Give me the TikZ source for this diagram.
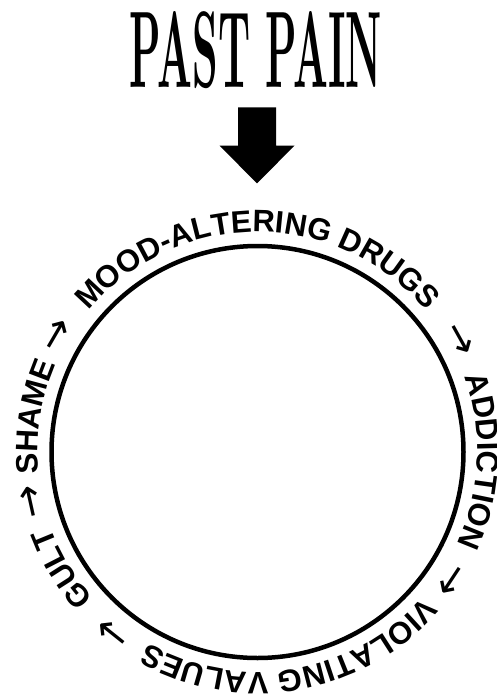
\documentclass[tikz,border=0pt]{standalone}
\usepackage{fontspec}
\usetikzlibrary{decorations.text,calc}
\newfontfamily\ringfont{Liberation Sans}
\newfontfamily\arrowfont{DejaVu Sans}
\tikzset{
  ringword/.style={decorate, decoration={text along path, text align=center,
    text={|\ringfont\bfseries\fontsize{31}{31}\selectfont|#1}}},
  ringarrow/.style={decorate, decoration={text along path, text align=center,
    text={|\arrowfont\fontsize{40}{40}\selectfont|#1}}},
  ringline/.style={circle, draw, line width=4.5pt, minimum size=412pt, inner sep=0pt},
  blockarrow/.style={fill=black}
}
\begin{document}
\begin{tikzpicture}[x=1pt,y=1pt]
\fill[white] (0,0) rectangle (496,-696);
\useasboundingbox (0,0) rectangle (496,-696);
\coordinate (c) at (257.5,-452);
\node[ringline] (ring) at (c) {};
\node[inner sep=0pt] (title) at (256,-50) {\resizebox{252pt}{76pt}{\bfseries PAST PAIN}};
\fill[blockarrow] (238,-107.3) -- (276,-107.3) -- (276,-145.7) -- (294.5,-145.7)
  -- (257,-183.3) -- (219.5,-145.7) -- (238,-145.7) -- cycle;
% ring texts (clockwise arcs, centred on measured angles)
\path[ringword={MOOD-ALTERING DRUGS}] ($(c)+(150:220pt)$) arc[start angle=150, end angle=30, radius=220pt];
\path[ringarrow={→}] ($(c)+(59.1:220pt)$) arc[start angle=59.1, end angle=-0.9, radius=220pt];
\path[ringword={ADDICTION}] ($(c)+(57.6:220pt)$) arc[start angle=57.6, end angle=-62.4, radius=220pt];
\path[ringarrow={→}] ($(c)+(-3.6:220pt)$) arc[start angle=-3.6, end angle=-63.6, radius=220pt];
\path[ringword={VIOLATING VALUES}] ($(c)+(-20.4:220pt)$) arc[start angle=-20.4, end angle=-140.4, radius=220pt];
\path[ringarrow={→}] ($(c)+(-98.6:220pt)$) arc[start angle=-98.6, end angle=-158.6, radius=220pt];
\path[ringword={GULT}] ($(c)+(-119.2:220pt)$) arc[start angle=-119.2, end angle=-179.2, radius=220pt];
\path[ringarrow={→}] ($(c)+(-137.5:220pt)$) arc[start angle=-137.5, end angle=-197.5, radius=220pt];
\path[ringword={SHAME}] ($(c)+(201:220pt)$) arc[start angle=201, end angle=141, radius=220pt];
\path[ringarrow={→}] ($(c)+(179.8:220pt)$) arc[start angle=179.8, end angle=119.8, radius=220pt];
\end{tikzpicture}
\end{document}
